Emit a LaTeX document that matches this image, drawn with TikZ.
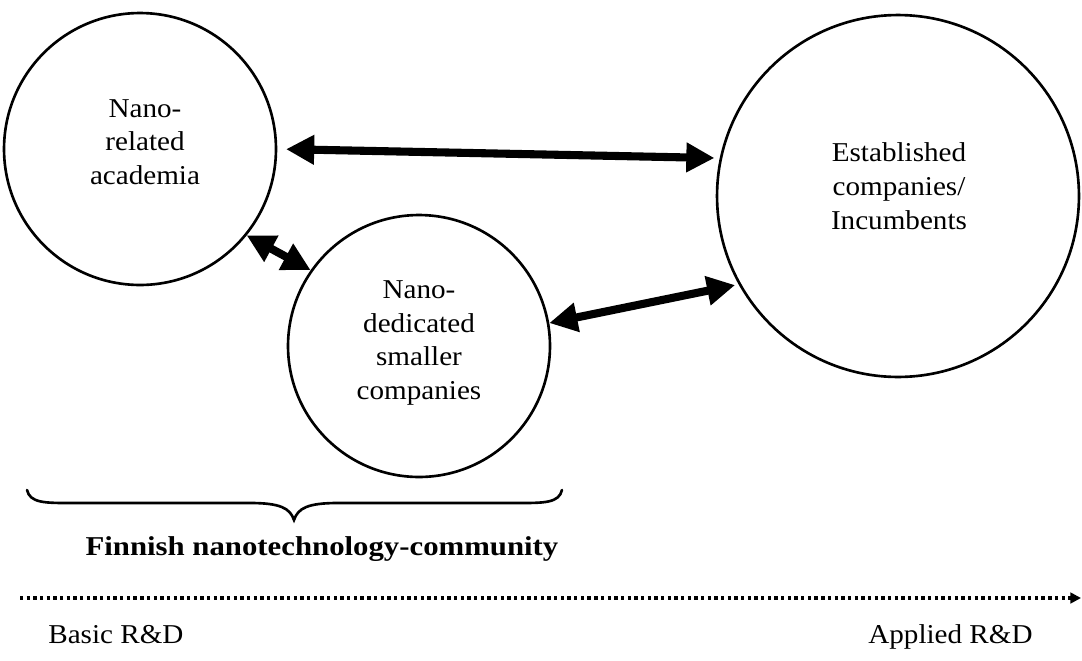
\documentclass[tikz,border=0pt]{standalone}
\usepackage{fontspec}
\setmainfont{Liberation Serif}[FakeStretch=1.07]
\newfontfamily\boldlabel{Liberation Serif}[FakeStretch=1.13]
\usetikzlibrary{arrows.meta}
\begin{document}
\begin{tikzpicture}[x=0.02cm,y=-0.02cm,
  bubble/.style={draw, circle, line width=1.5pt, inner sep=0pt},
  bubbletext/.style={align=center, font=\fontsize{15.5}{19.2}\selectfont, inner sep=0pt},
  dblarrow/.style={line width=4.6pt, {Triangle[length=16pt,width=16pt]}-{Triangle[length=16pt,width=16pt]}},
  axislabel/.style={font=\fontsize{15.5}{18}\selectfont, inner sep=0pt}]
\useasboundingbox (0,0) rectangle (1082,660);
% circles
\node[bubble, minimum size=5.44cm] (c1) at (140,149) {};
\node[bubble, minimum size=5.24cm] (c2) at (419,346) {};
\node[bubble, minimum size=7.24cm] (c3) at (898,196) {};
% texts
\node[bubbletext] (t1) at (145,142) {Nano-\\related\\academia};
\node[bubbletext] (t2) at (419,343) {Nano-\\dedicated\\smaller\\companies};
\node[bubbletext] (t3) at (899,186) {Established\\companies/\\Incumbents};
% arrows
\draw[dblarrow, shorten <=5pt, shorten >=3pt] (c1.0.5) -- (c3.168);
\draw[dblarrow] (c1.-39.9) -- (c2.145.7);
\draw[dblarrow, shorten >=2pt] (c2.10.1) -- (c3.-151.4);
% brace
\draw[line width=1.5pt, line cap=round]
  (27,490) .. controls (30,503) and (45,503) .. (70,503) -- (250,503)
  .. controls (280,503) and (290,508) .. (294,520)
  .. controls (298,508) and (308,503) .. (338,503) -- (519,503)
  .. controls (544,503) and (559,503) .. (562,490);
\node[inner sep=0pt, anchor=base, font=\boldlabel\bfseries\fontsize{15.5}{18}\selectfont] (community) at (322,555) {Finnish nanotechnology-community};
% axis
\coordinate (axL) at (20,598);
\coordinate (axR) at (1081,598);
\draw[line width=1.9pt, dash pattern=on 1.9pt off 1.9pt, -{Triangle[length=6pt,width=6pt]}] (axL) -- (axR);
\node[axislabel, anchor=base west] (basic) at (48,643) {Basic R\&D};
\node[axislabel, anchor=base east] (applied) at (1033,643) {Applied R\&D};
\end{tikzpicture}
\end{document}
